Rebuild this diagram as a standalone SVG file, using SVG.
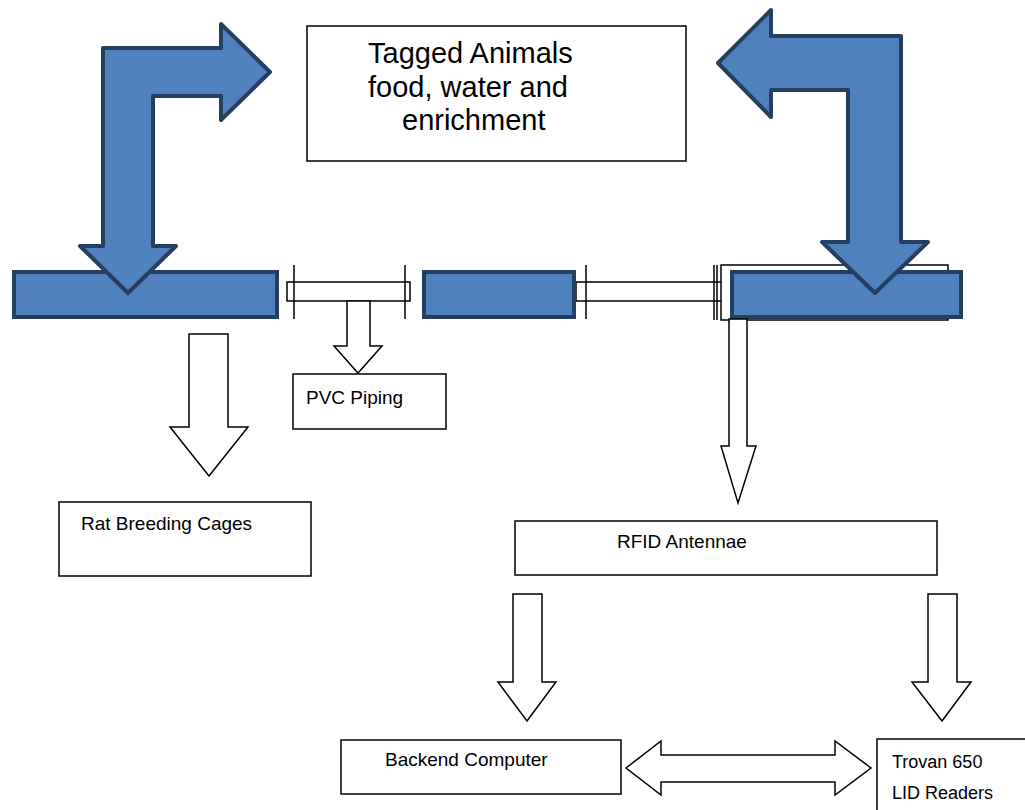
<svg xmlns="http://www.w3.org/2000/svg" width="1025" height="810" viewBox="0 0 1025 810">
<style>
.box{fill:#fff;stroke:#000;stroke-width:1.5}
.bar{fill:#4F81BD;stroke:#243F60;stroke-width:4}
.big{fill:#4F81BD;stroke:#243F60;stroke-width:4;stroke-linejoin:round}
.open{fill:#fff;stroke:#000;stroke-width:1.5;stroke-linejoin:miter}
.pipe{fill:#fff;stroke:#000;stroke-width:1.5}
.tick{stroke:#000;stroke-width:1.5}
.t{font-family:"Liberation Sans",Arial,sans-serif;fill:#000;font-size:19px}
.tl{font-family:"Liberation Sans",Arial,sans-serif;fill:#000;font-size:29px}
</style>
<rect width="1025" height="810" fill="#fff"/>

<g id="pipes">
  <rect class="pipe" x="287" y="282" width="123" height="19"/>
  <line class="tick" x1="294" y1="265" x2="294" y2="319"/>
  <line class="tick" x1="405" y1="265" x2="405" y2="319"/>
  <rect class="pipe" x="576" y="282" width="146" height="19"/>
  <line class="tick" x1="586" y1="265" x2="586" y2="319"/>
  <line class="tick" x1="714" y1="265" x2="714" y2="320"/>
  <line class="tick" x1="717" y1="265" x2="717" y2="320"/>
  <rect class="pipe" x="721" y="265" width="227" height="55"/>
</g>

<g id="bars">
  <rect class="bar" x="14" y="272" width="263" height="45"/>
  <rect class="bar" x="424" y="272" width="150" height="45"/>
  <rect class="bar" x="732" y="272" width="229" height="45"/>
</g>

<g id="connectors">
  <polygon class="big" points="103,48 221,48 221,24 270,72 221,120 221,96 153,96 153,246 176,246 128,293 80,246 103,246"/>
  <polygon class="big" points="901,36 771,36 771,10 718,63 771,117 771,90 848,90 848,242 822,242 875,293 928,242 901,242"/>
  <polygon class="open" points="347,301 370,301 370,346 382,346 358,373 334,346 347,346"/>
  <polygon class="open" points="189,334 228,334 228,427 248,427 209,476 170,427 189,427"/>
  <polygon class="open" points="729,319 747,319 747,446 756,446 738,503 721,446 729,446"/>
  <polygon class="open" points="513,594 542,594 542,682 556,682 527,721 498,682 513,682"/>
  <polygon class="open" points="928,594 957,594 957,682 971,682 942,721 912,682 928,682"/>
  <polygon class="open" points="626,768 661,741 661,755 835,755 835,741 871,768 835,795 835,782 661,782 661,795"/>
</g>

<g id="tagged-animals">
  <rect class="box" x="307" y="26" width="379" height="135"/>
  <text class="tl" x="368" y="63">Tagged Animals</text>
  <text class="tl" x="368" y="97">food, water and</text>
  <text class="tl" x="402" y="130">enrichment</text>
</g>

<g id="pvc-piping">
  <rect class="box" x="293" y="374" width="153" height="55"/>
  <text class="t" x="306" y="404">PVC Piping</text>
</g>

<g id="rat-breeding-cages">
  <rect class="box" x="59" y="502" width="252" height="74"/>
  <text class="t" x="81" y="530">Rat Breeding Cages</text>
</g>

<g id="rfid-antennae">
  <rect class="box" x="515" y="521" width="422" height="54"/>
  <text class="t" x="617" y="548">RFID Antennae</text>
</g>

<g id="backend-computer">
  <rect class="box" x="341" y="740" width="280" height="54"/>
  <text class="t" x="385" y="766">Backend Computer</text>
</g>

<g id="trovan-readers">
  <rect class="box" x="877" y="739" width="160" height="80"/>
  <text class="t" x="892" y="768" style="font-size:18px">Trovan 650</text>
  <text class="t" x="892" y="799" style="font-size:18px">LID Readers</text>
</g>
</svg>
